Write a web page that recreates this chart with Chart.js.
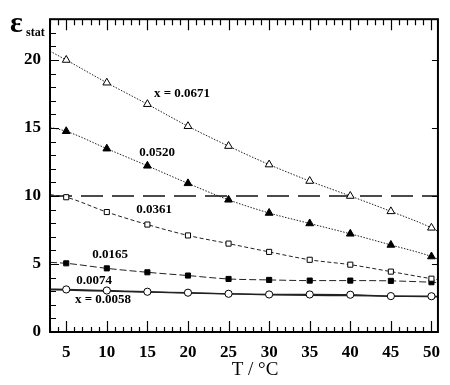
<!DOCTYPE html>
<html><head><meta charset="utf-8">
<script src="https://cdn.jsdelivr.net/npm/chart.js@4.4.1/dist/chart.umd.min.js"></script>
<style>html,body{margin:0;padding:0;background:#fff}#wrap{width:450px;height:385px}</style>
</head><body><div id="wrap"><canvas id="c" width="450" height="385"></canvas></div>
<script>
const temps = [5,10,15,20,25,30,35,40,45,50];
const xTicks = [5,10,15,20,25,30,35,40,45,50];
const yTicks = [0,5,10,15,20];
const seriesNames = ['x = 0.0671','0.0520','0.0361','0.0165','0.0074','x = 0.0058'];
const eps0671 = [20.0,18.33,16.75,15.13,13.67,12.31,11.1,10.0,8.87,7.66];
const eps0520 = [14.76,13.48,12.22,10.93,9.72,8.75,7.98,7.22,6.4,5.55];
const eps0361 = [9.91,8.82,7.9,7.1,6.5,5.89,5.31,4.95,4.44,3.92];
const eps0165 = [5.05,4.68,4.39,4.15,3.9,3.83,3.78,3.78,3.76,3.66];
const eps0074 = [3.13,3.05,2.96,2.89,2.81,2.76,2.76,2.74,2.64,2.63];
const eps0058 = [3.08,3.0,2.93,2.86,2.8,2.74,2.7,2.67,2.63,2.6];
// fitted curves read at the plot edges (T = 3 and T = 50.8)
const curveStartT = 3, curveEndT = 50.8;
const curveStart = [20.65,15.05,10.1,5.12,3.15,3.1];
const curveEnd = [7.4,5.35,3.85,3.64,2.62,2.58];
const refLevel = 10;

const allSeries = [eps0671,eps0520,eps0361,eps0165,eps0074,eps0058];
const styles = [
  {ps:'triangle', fill:'#fff', dash:[1.5,1.5], marker:true},
  {ps:'triangle', fill:'#000', dash:[1.5,1.5], marker:true},
  {ps:'rect', fill:'#fff', dash:[4,2.5], marker:true},
  {ps:'rect', fill:'#000', dash:[7,3], marker:true},
  {ps:'circle', fill:'#fff', dash:[], marker:true},
  {ps:'circle', fill:'#fff', dash:[], marker:false}
];
const datasets = [];
allSeries.forEach((vals,i)=>{
  const st = styles[i];
  const pts = [{x:curveStartT,y:curveStart[i]}].concat(temps.map((t,k)=>({x:t,y:vals[k]}))).concat([{x:curveEndT,y:curveEnd[i]}]);
  datasets.push({
    label: seriesNames[i], data: pts, showLine:true,
    borderColor:'#222', borderWidth: i>=4?1.3:1, borderDash: st.dash,
    cubicInterpolationMode:'monotone',
    pointStyle: st.ps,
    pointRadius: pts.map((p,k)=> (st.marker && k>0 && k<pts.length-1) ? (st.ps==='triangle'?4.5:3.6) : 0),
    pointBackgroundColor: st.fill, pointBorderColor:'#000', pointBorderWidth:1
  });
});
datasets.push({label:'ref', data:[{x:curveStartT,y:refLevel},{x:curveEndT,y:refLevel}], showLine:true,
  borderColor:'#111', borderWidth:1.5, borderDash:[22,9], pointRadius:0});

const labelPos = [[182,94],[157,153],[154,210],[110,255],[94,281],[103,300]];

const deco = {
  id:'deco',
  afterDraw(chart){
    const ctx = chart.ctx, a = chart.chartArea, xs = chart.scales.x, ys = chart.scales.y;
    ctx.save();
    ctx.strokeStyle='#000';
    ctx.lineWidth=1.2;
    ctx.beginPath();
    for(let t=3;t<=50;t++){
      const px = Math.round(xs.getPixelForValue(t))+0.5;
      const L = t%5===0?11:5;
      ctx.moveTo(px,a.bottom); ctx.lineTo(px,a.bottom-L);
      ctx.moveTo(px,a.top); ctx.lineTo(px,a.top+(t%5===0?11:6));
    }
    for(let v=1;v<=22;v++){
      const py = Math.round(ys.getPixelForValue(v))+0.5;
      const L = v%5===0?9:6;
      ctx.moveTo(a.left,py); ctx.lineTo(a.left+L,py);
      if(v%5===0){ ctx.moveTo(a.right,py); ctx.lineTo(a.right-6,py); }
    }
    ctx.stroke();
    ctx.lineWidth=2;
    ctx.strokeRect(a.left,a.top,a.right-a.left,a.bottom-a.top);
    ctx.fillStyle='#000';
    ctx.textAlign='center'; ctx.textBaseline='middle';
    ctx.font='bold 13px "Liberation Serif"';
    seriesNames.forEach((s,i)=>ctx.fillText(s,labelPos[i][0],labelPos[i][1]));
    ctx.font='19px "Liberation Serif"';
    ctx.fillText('T / \u00B0C',255,370);
    ctx.textAlign='left'; ctx.textBaseline='alphabetic';
    ctx.font='bold 30px "Liberation Serif"';
    ctx.fillText('\u03B5',10,32);
    ctx.font='bold 12px "Liberation Serif"';
    ctx.fillText('stat',26,36);
    ctx.restore();
  }
};

new Chart(document.getElementById('c'),{
  type:'scatter',
  data:{datasets},
  options:{
    responsive:false, animation:false,
    layout:{padding:{top:15,right:3,left:0,bottom:0}},
    plugins:{legend:{display:false},tooltip:{enabled:false}},
    scales:{
      x:{type:'linear',min:3,max:50.8,
        afterBuildTicks:s=>{s.ticks=xTicks.map(v=>({value:v}));},
        afterFit:s=>{s.height=53;},
        grid:{display:false,drawTicks:false},border:{display:false},
        ticks:{color:'#000',padding:10,font:{family:'Liberation Serif',size:17,weight:'bold'},maxRotation:0,autoSkip:false}},
      y:{type:'linear',min:0,max:23,
        afterBuildTicks:s=>{s.ticks=yTicks.map(v=>({value:v}));},
        afterFit:s=>{s.width=50;},
        grid:{display:false,drawTicks:false},border:{display:false},
        ticks:{color:'#000',padding:9,font:{family:'Liberation Serif',size:17,weight:'bold'}}}
    }
  },
  plugins:[deco]
});
</script></body></html>
